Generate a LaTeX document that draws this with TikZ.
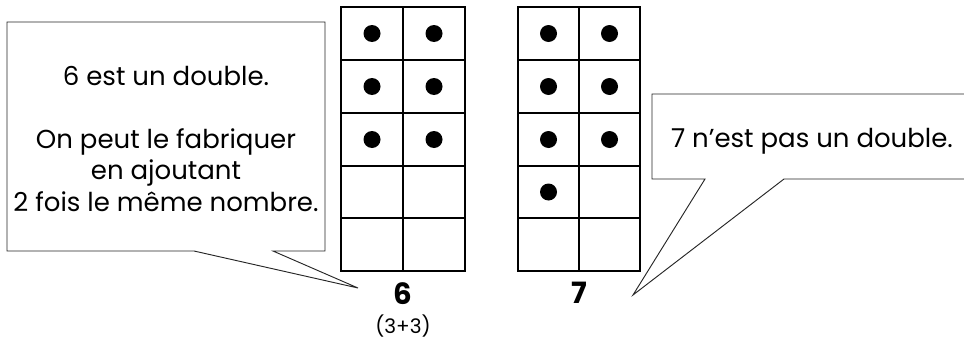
\documentclass[tikz,border=0pt]{standalone}
\usepackage{fontspec}
\setmainfont{Poppins}
\tikzset{
  bulle/.style={draw=black!85, line width=0.7pt, fill=white, line join=miter},
  grille/.style={line width=1.6pt},
  jeton/.style={fill=black},
  texte/.style={font=\fontsize{19.5}{23.5}\selectfont, align=center},
  nombre/.style={font=\fontsize{22}{22}\selectfont\bfseries}
}
\begin{document}
\begin{tikzpicture}[x=0.75pt, y=-0.75pt]
		\useasboundingbox (0, 0) rectangle (964, 339);
		\clip (0, 0) rectangle (964, 339);

		% Bulle de gauche, pointe vers le 6
		\coordinate (pointe6) at (358, 288);
		\draw[bulle] (7, 22) -- (325, 22) -- (325, 251) -- (273, 251) -- (pointe6) -- (194, 251) -- (7, 251) -- cycle;
		\node[texte] (texte6) at (166, 139) {6 est un double.\\[23.5pt]On peut le fabriquer\\en ajoutant\\2 fois le même nombre.};

		% Bulle de droite, pointe vers le 7
		\coordinate (pointe7) at (633, 295);
		\draw[bulle] (652, 94) -- (975, 94) -- (975, 179) -- (784, 179) -- (pointe7) -- (705, 179) -- (652, 179) -- cycle;
		\node[texte] (texte7) at (812, 141) {7 n'est pas un double.};

		% Grille du 6 : 2 colonnes, 5 lignes
		\draw[grille] (341, 7) rectangle (465, 271);
		\draw[grille] (403, 7) -- (403, 271);
		\foreach \y in {60, 113, 166, 218} \draw[grille] (341, \y) -- (465, \y);
		\foreach \y in {33.5, 86.5, 139.5} {
			\fill[jeton] (372, \y) circle (8.5);
			\fill[jeton] (434, \y) circle (8.5);
		}
		\node[nombre] (six) at (403, 294) {6};
		\node[font=\fontsize{15}{15}\selectfont] (somme6) at (403, 326) {(3+3)};

		% Grille du 7
		\draw[grille] (518, 7) rectangle (640, 271);
		\draw[grille] (579, 7) -- (579, 271);
		\foreach \y in {60, 113, 166, 218} \draw[grille] (518, \y) -- (640, \y);
		\foreach \y in {33.5, 86.5, 139.5} {
			\fill[jeton] (548.5, \y) circle (8.5);
			\fill[jeton] (609.5, \y) circle (8.5);
		}
		\fill[jeton] (548.5, 192) circle (8.5); % le jeton en trop
		\node[nombre] (sept) at (579, 293) {7};
	\end{tikzpicture}
\end{document}
